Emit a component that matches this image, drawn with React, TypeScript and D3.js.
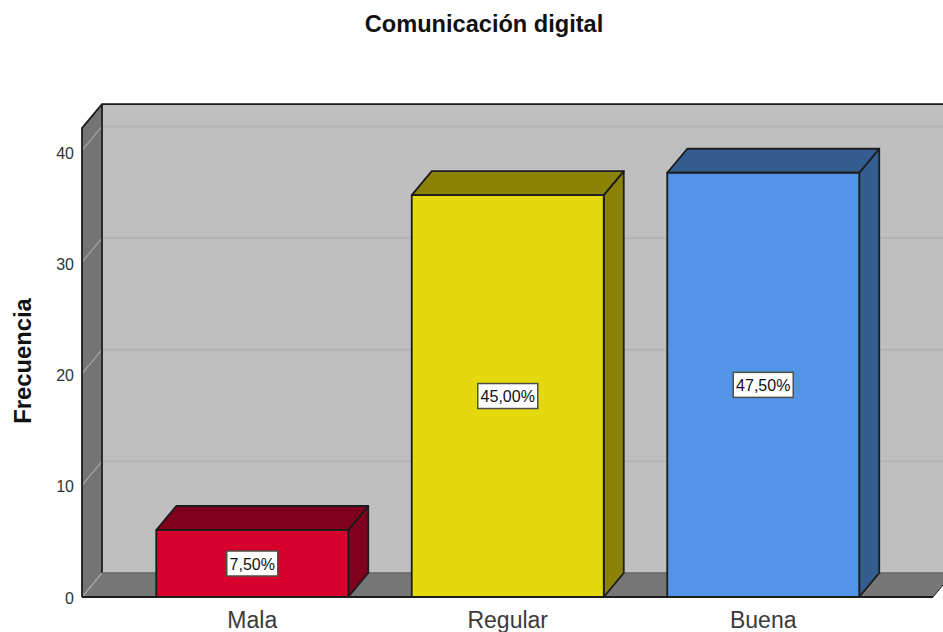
import React from "react";
import * as d3 from "d3";

const categories = ["Mala", "Regular", "Buena"];
const counts = [6, 36, 38];
const percentLabels = ["7,50%", "45,00%", "47,50%"];
const frontColors = ["#d7002d", "#e3d90d", "#5294e5"];
const topColors = ["#7e001d", "#8c8206", "#335c8f"];
const yTicks = [0, 10, 20, 30, 40];

const WIDTH = 943;
const HEIGHT = 632;
const DX = 20;
const DY = -24;
const OUTLINE = "#1c1c1c";

const x = d3.scaleBand<string>().domain(categories).range([124.5, 891]).paddingInner(0.2485).paddingOuter(0.1243);
const y = d3.scaleLinear().domain([0, 40]).range([597, 150.4]);
// Tick text sits a little below the front end of each gridline
const yLabel = d3.scaleLinear().domain([0, 40]).range([598, 153]);

const plotLeft = 82;
const plotRight = 933;
const plotTop = y(42);
const plotBottom = y(0);

const pts = (p: [number, number][]) => p.map((q) => q.join(",")).join(" ");

export default function App() {
  return (
    <svg
      width={WIDTH}
      height={HEIGHT}
      viewBox={`0 0 ${WIDTH} ${HEIGHT}`}
      style={{ position: "absolute", left: 0, top: 0, display: "block", background: "#fff", fontFamily: "'Liberation Sans', Arial, sans-serif" }}
    >
      <text x={484} y={32} textAnchor="middle" fontSize={23.6} fontWeight="bold" fill="#111">
        Comunicación digital
      </text>

      {/* Chart box: back wall, side wall, floor */}
      <rect x={plotLeft + DX} y={plotTop + DY} width={plotRight - plotLeft} height={plotBottom - plotTop} fill="#bfbfbf" />
      <polygon
        points={pts([[plotLeft, plotTop], [plotLeft + DX, plotTop + DY], [plotLeft + DX, plotBottom + DY], [plotLeft, plotBottom]])}
        fill="#747474"
      />
      <polygon
        points={pts([[plotLeft, plotBottom], [plotLeft + DX, plotBottom + DY], [plotRight + DX, plotBottom + DY], [plotRight, plotBottom]])}
        fill="#777777"
      />

      {/* Gridlines run along the side wall and across the back wall */}
      {yTicks.map((t) => (
        <g key={t} fill="none">
          <line x1={plotLeft} y1={y(t)} x2={plotLeft + DX} y2={y(t) + DY} stroke="#a6a6a6" strokeWidth={1.2} />
          {t > 0 && (
            <line x1={plotLeft + DX} y1={y(t) + DY} x2={WIDTH} y2={y(t) + DY} stroke="#b4b4b4" strokeWidth={2} />
          )}
        </g>
      ))}

      {/* Box edges */}
      <polyline
        points={pts([[plotLeft, plotBottom], [plotLeft, plotTop], [plotLeft + DX, plotTop + DY], [WIDTH, plotTop + DY]])}
        fill="none"
        stroke={OUTLINE}
        strokeWidth={1.8}
      />
      <line x1={plotLeft + DX} y1={plotTop + DY} x2={plotLeft + DX} y2={plotBottom + DY} stroke={OUTLINE} strokeWidth={1.8} />
      <line x1={plotLeft + DX} y1={plotBottom + DY} x2={WIDTH} y2={plotBottom + DY} stroke="#666" strokeWidth={1.5} />
      <line x1={plotLeft} y1={plotBottom} x2={plotRight} y2={plotBottom} stroke={OUTLINE} strokeWidth={2} />
      <line x1={plotRight} y1={plotBottom} x2={plotRight + DX} y2={plotBottom + DY} stroke={OUTLINE} strokeWidth={1} />

      {/* Extruded bars */}
      {categories.map((c, i) => {
        const x0 = x(c) as number;
        const x1 = x0 + x.bandwidth();
        const top = y(counts[i]);
        const base = y(0);
        return (
          <g key={c} stroke={OUTLINE} strokeWidth={1.8} strokeLinejoin="round">
            <polygon points={pts([[x1, top], [x1 + DX, top + DY], [x1 + DX, base + DY], [x1, base]])} fill={topColors[i]} />
            <polygon points={pts([[x0, top], [x0 + DX, top + DY], [x1 + DX, top + DY], [x1, top]])} fill={topColors[i]} />
            <rect x={x0} y={top} width={x.bandwidth()} height={base - top} fill={frontColors[i]} />
          </g>
        );
      })}

      {/* Percentage labels centred on each bar's front face */}
      {categories.map((c, i) => {
        const cx = (x(c) as number) + x.bandwidth() / 2;
        const cy = (y(counts[i]) + y(0)) / 2;
        const boxWidth = i === 0 ? 51 : 60;
        return (
          <g key={c}>
            <rect
              x={cx - boxWidth / 2}
              y={cy - 12.5}
              width={boxWidth}
              height={25}
              fill="#fff"
              stroke="#4f4f45"
              strokeWidth={1.5}
            />
            <text x={cx} y={cy + 6} textAnchor="middle" fontSize={16} fill="#111">
              {percentLabels[i]}
            </text>
          </g>
        );
      })}

      {/* Value axis */}
      {yTicks.map((t) => (
        <text key={t} x={74} y={yLabel(t) + 5.5} textAnchor="end" fontSize={16} fill="#333">
          {t}
        </text>
      ))}
      <text
        transform={`translate(31,361) rotate(-90)`}
        textAnchor="middle"
        fontSize={23.8}
        fontWeight="bold"
        fill="#111"
      >
        Frecuencia
      </text>

      {/* Category axis */}
      {categories.map((c) => (
        <text key={c} x={(x(c) as number) + x.bandwidth() / 2} y={628} textAnchor="middle" fontSize={23} fill="#3a3a3a">
          {c}
        </text>
      ))}
    </svg>
  );
}
